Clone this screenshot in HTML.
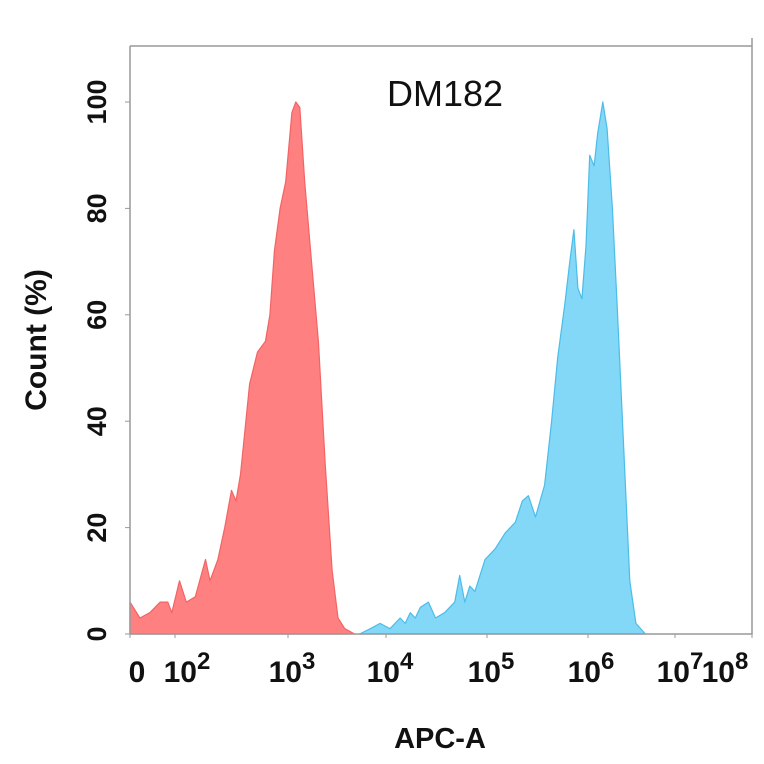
<!DOCTYPE html>
<html><head><meta charset="utf-8"><style>
body{margin:0;background:#fff}
svg{display:block}
text{font-family:"Liberation Sans",sans-serif;fill:#111}
</style></head><body>
<svg width="764" height="764">
<g id="plot"></g>
</svg>
<script>
const decadeKnots=[1,2,3,4,5,6,7,8];
const decadePx=[130,175,288,386,487,588,675,752];
const xTickLabels=["0","10","10","10","10","10","10","10"];
const xTickExp=["","2","3","4","5","6","7","8"];
const xLabelPos=[137,187,292,390,491,591,680,725];
const yTicks=[0,20,40,60,80,100];
const redX=[1.00,1.22,1.44,1.67,1.84,1.93,2.04,2.10,2.18,2.27,2.31,2.38,2.44,2.50,2.54,2.58,2.66,2.73,2.80,2.84,2.88,2.93,2.98,3.04,3.08,3.12,3.17,3.24,3.31,3.38,3.45,3.51,3.58,3.68];
const redY=[6,3,4,6,6,4,10,6,7,14,10,14,20,27,25,30,47,53,55,60,72,80,85,98,100,99,85,70,55,32,12,3,1,0];
const blueX=[3.73,3.84,3.94,4.04,4.14,4.19,4.24,4.29,4.34,4.42,4.49,4.58,4.68,4.73,4.78,4.83,4.88,4.98,5.08,5.18,5.28,5.35,5.41,5.48,5.57,5.64,5.70,5.77,5.82,5.86,5.90,5.94,5.98,6.02,6.07,6.11,6.17,6.22,6.28,6.34,6.41,6.48,6.55,6.66];
const blueY=[0,1,2,1,3,2,4,3,5,6,3,4,6,11,6,9,8,14,16,19,21,25,26,22,28,40,52,62,70,76,65,63,73,90,88,94,100,95,80,60,35,10,2,0];
const L=130,R=752,T=46,B=634;
function xs(v){for(let i=0;i<decadeKnots.length-1;i++){if(v<=decadeKnots[i+1]||i==decadeKnots.length-2){const t=(v-decadeKnots[i])/(decadeKnots[i+1]-decadeKnots[i]);return decadePx[i]+t*(decadePx[i+1]-decadePx[i]);}}}
function ys(v){return B-(v/100)*(B-102);}
const NS="http://www.w3.org/2000/svg";
const g=document.getElementById('plot');
function mk(tag,attrs){const e=document.createElementNS(NS,tag);for(const k in attrs)e.setAttribute(k,attrs[k]);g.appendChild(e);return e;}
function area(X,Y,fill,stroke,name){let d="M"+xs(X[0])+","+B;for(let i=0;i<X.length;i++)d+=" L"+xs(X[i]).toFixed(1)+","+ys(Y[i]).toFixed(1);d+=" L"+xs(X[X.length-1])+","+B+" Z";const p=mk('path',{d:d,fill:fill,stroke:stroke,'stroke-width':1.2,'stroke-linejoin':'round'});

}
area(redX,redY,"#ff8080","#f26464","red-histogram");
area(blueX,blueY,"#82d8f6","#4cbce8","blue-histogram");
const ax=mk('path',{d:`M${L},${T} L${L},${B} L${R},${B} L${R},${T-8} M${L},${T} L${R},${T}`,fill:'none',stroke:'#999','stroke-width':1.5});


yTicks.forEach(v=>{const y=ys(v);mk('line',{x1:L-5,x2:L,y1:y,y2:y,stroke:'#999'});
const t=mk('text',{transform:`translate(106,${y}) rotate(-90)`,'text-anchor':'middle','font-size':27,'font-weight':'bold'});t.textContent=v;

});
decadeKnots.forEach((k,i)=>{const x=xs(k);mk('line',{x1:x,x2:x,y1:B,y2:B+4,stroke:'#999'});
const t=mk('text',{x:xLabelPos[i],y:682,'text-anchor':'middle','font-size':30,'font-weight':'bold'});t.textContent=xTickLabels[i];
if(xTickExp[i]){const s=document.createElementNS(NS,'tspan');s.setAttribute('dy','-13');s.setAttribute('font-size','24');s.textContent=xTickExp[i];t.appendChild(s);}

});
let t=mk('text',{x:445,y:106,'text-anchor':'middle','font-size':36});t.textContent="DM182";


t=mk('text',{x:440,y:748,'text-anchor':'middle','font-size':29,'font-weight':'bold'});t.textContent="APC-A";


t=mk('text',{transform:'translate(46,340) rotate(-90)','text-anchor':'middle','font-size':30,'font-weight':'bold'});t.textContent="Count  (%)";


</script>
</body></html>
